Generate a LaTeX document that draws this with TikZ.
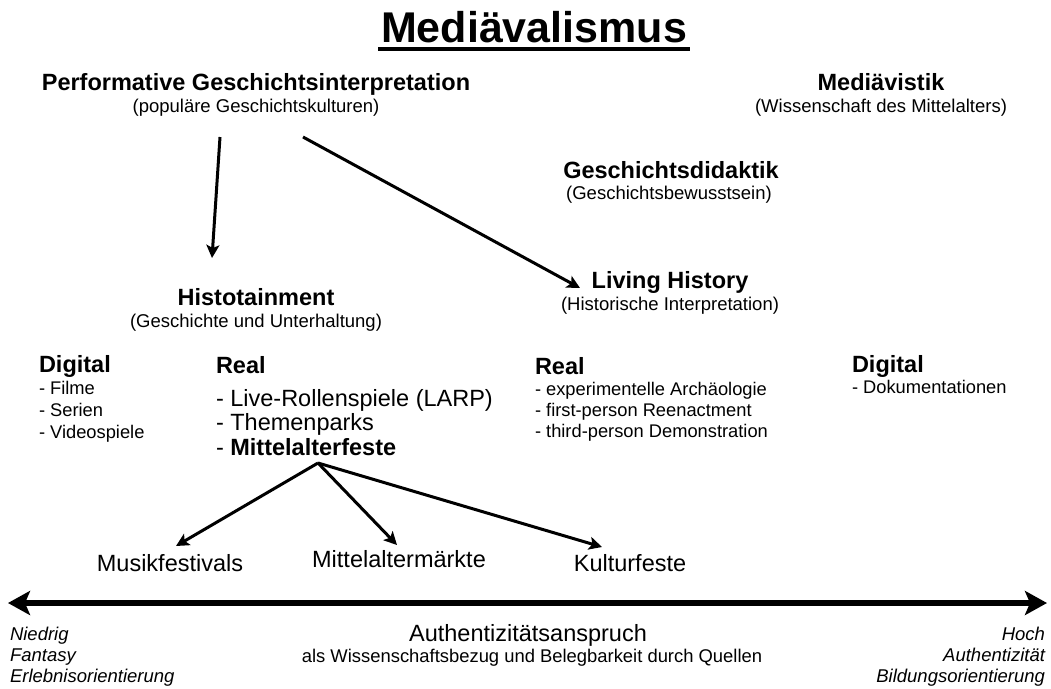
\documentclass[tikz,border=0pt]{standalone}
\usepackage{fontspec}
\setmainfont{Liberation Sans}
\usetikzlibrary{arrows.meta}
\tikzset{
  every node/.style={inner sep=0pt, outer sep=0pt},
  head/.style={font=\fontsize{23.5}{28}\selectfont\bfseries, anchor=base},
  headl/.style={font=\fontsize{23.5}{28}\selectfont\bfseries, anchor=base west},
  sub/.style={font=\fontsize{18.5}{22}\selectfont, anchor=base},
  item/.style={font=\fontsize{18.3}{22}\selectfont, anchor=base west},
  bigitem/.style={font=\fontsize{23.5}{28}\selectfont, anchor=base west},
  leaf/.style={font=\fontsize{23.5}{28}\selectfont, anchor=base},
  axlab/.style={font=\fontsize{18.5}{22}\selectfont\itshape},
  conn/.style={line width=3pt, -{Stealth[length=13pt,width=13pt,inset=3pt]}},
  axis/.style={line width=6.5pt, {Stealth[length=22pt,width=24pt,inset=5pt]}-{Stealth[length=22pt,width=24pt,inset=5pt]}}
}
\begin{document}
\begin{tikzpicture}[x=1pt,y=-1pt]
\useasboundingbox (0,0) rectangle (1051,688);
\fill[white] (0,0) rectangle (1051,688);

% title
\node[font=\fontsize{43}{52}\selectfont\bfseries, anchor=base] (title) at (534,42) {Mediävalismus};
\draw[line width=3.5pt] ([yshift=-7pt,xshift=-3pt]title.base west) -- ([yshift=-7pt,xshift=3pt]title.base east);

% top row
\node[head] (perf) at (256,90) {Performative Geschichtsinterpretation};
\node[sub] (perfsub) at (256,112) {(populäre Geschichtskulturen)};
\node[head] (mediav) at (881,90) {Mediävistik};
\node[sub] (mediavsub) at (881,112) {(Wissenschaft des Mittelalters)};

\node[head] (didak) at (671,178) {Geschichtsdidaktik};
\node[sub] (didaksub) at (669,199) {(Geschichtsbewusstsein)};

\node[head] (living) at (670,288) {Living History};
\node[sub] (livingsub) at (670,310) {(Historische Interpretation)};

\node[head] (histo) at (256,305) {Histotainment};
\node[sub] (histosub) at (256,327) {(Geschichte und Unterhaltung)};

% lists
\node[headl] (dig1) at (39,372) {Digital};
\node[item] (dig1a) at (39,394) {- Filme};
\node[item] (dig1b) at (39,416) {- Serien};
\node[item] (dig1c) at (39,438) {- Videospiele};

\node[headl] (real1) at (216,373) {Real};
\node[bigitem] (real1a) at (216,406) {- Live-Rollenspiele (LARP)};
\node[bigitem] (real1b) at (216,430) {- Themenparks};
\node[bigitem] (real1c) at (216,455) {- \textbf{Mittelalterfeste}};

\node[headl] (real2) at (535,374) {Real};
\node[item] (real2a) at (535,395) {- experimentelle Archäologie};
\node[item] (real2b) at (535,416) {- first-person Reenactment};
\node[item] (real2c) at (535,437) {- third-person Demonstration};

\node[headl] (dig2) at (852,372) {Digital};
\node[item] (dig2a) at (852,393) {- Dokumentationen};

% leaves
\node[leaf] (musik) at (170,571) {Musikfestivals};
\node[leaf] (markt) at (399,567) {Mittelaltermärkte};
\node[leaf] (kultur) at (630,571) {Kulturfeste};

% connector end points
\coordinate (a1s) at (220,137);
\coordinate (a1e) at (212,258);
\coordinate (a2s) at (303,137);
\coordinate (a2e) at (580,288);
\coordinate (fest) at (318,463);
\coordinate (musikT) at (176,546);
\coordinate (marktT) at (397,545);
\coordinate (kulturT) at (602,547);

\draw[conn] (a1s) -- (a1e);
\draw[conn] (a2s) -- (a2e);
\draw[conn] (fest) -- (musikT);
\draw[conn] (fest) -- (marktT);
\draw[conn] (fest) -- (kulturT);

% axis
\coordinate (axL) at (8,603);
\coordinate (axR) at (1047,603);
\draw[axis] (axL) -- (axR);

\node[axlab, anchor=base west] (low1) at (10,640) {Niedrig};
\node[axlab, anchor=base west] (low2) at (10,661) {Fantasy};
\node[axlab, anchor=base west] (low3) at (10,682) {Erlebnisorientierung};

\node[font=\fontsize{23.5}{28}\selectfont, anchor=base] (auth) at (528,641) {Authentizitätsanspruch};
\node[font=\fontsize{18.4}{22}\selectfont, anchor=base] (authsub) at (532,662) {als Wissenschaftsbezug und Belegbarkeit durch Quellen};

\node[axlab, anchor=base east] (high1) at (1045,640) {Hoch};
\node[axlab, anchor=base east] (high2) at (1045,661) {Authentizität};
\node[axlab, anchor=base east] (high3) at (1045,682) {Bildungsorientierung};
\end{tikzpicture}
\end{document}
